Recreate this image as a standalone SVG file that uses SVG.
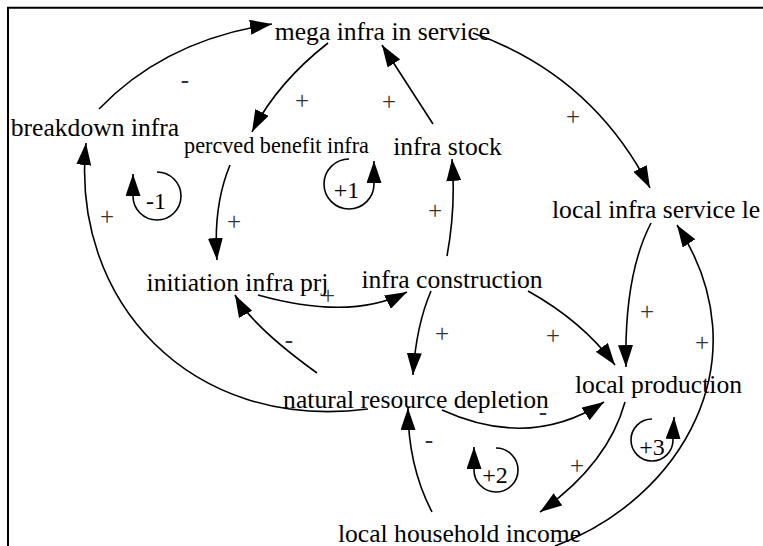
<svg xmlns="http://www.w3.org/2000/svg" width="763" height="546" viewBox="0 0 763 546">
<style>
.n{font-family:"Liberation Serif","Times New Roman",serif;font-size:25.6px;fill:#000;text-anchor:middle}
.s{font-family:"Liberation Serif","Times New Roman",serif;font-size:25px;fill:#333;text-anchor:middle}
.l{font-family:"Liberation Serif","Times New Roman",serif;font-size:24px;fill:#000;text-anchor:middle}
.c{fill:none;stroke:#000;stroke-width:1.6;marker-end:url(#ah)}
</style>
<defs>
<marker id="ah" viewBox="0 0 22 15" refX="22" refY="7.5" markerWidth="22" markerHeight="15" markerUnits="userSpaceOnUse" orient="auto">
<path d="M0,0 L22,7.5 L0,15 z" fill="#000"/>
</marker>
</defs>
<rect width="763" height="546" fill="#fff"/>
<path d="M8,546 V7.8 H763" fill="none" stroke="#000" stroke-width="2"/>

<g id="connectors">
<path class="c" d="M99,109 Q165,40 272,24"/>
<path class="c" d="M328,43 Q277,83 252,132"/>
<path class="c" d="M433,124 L382,45"/>
<path class="c" d="M473,33 Q592,75 650,188"/>
<path class="c" d="M230,165 Q213,206 217,260"/>
<path class="c" d="M258,295 Q351,321 407,292"/>
<path class="c" d="M447,256 Q456,207 452,159"/>
<path class="c" d="M431,291 Q416,326 413,375"/>
<path class="c" d="M528,291 Q582,321 615,365"/>
<path class="c" d="M651,223 Q624,275 626,367"/>
<path class="c" d="M555,546 C680,500 765,360 677,225"/>
<path class="c" d="M625,402 Q608,464 540,512"/>
<path class="c" d="M442,410 Q530,450 604,402"/>
<path class="c" d="M432,512 Q408,466 408,408"/>
<path class="c" d="M317,373 Q252,326 235,295"/>
<path class="c" d="M368,409 C190,432 70,300 86,143"/>
</g>

<g id="signs">
<text class="s" x="185" y="88">-</text>
<text class="s" x="302" y="108.5">+</text>
<text class="s" x="389" y="109.5">+</text>
<text class="s" x="573" y="124.5">+</text>
<text class="s" x="107" y="224.5">+</text>
<text class="s" x="234" y="229.5">+</text>
<text class="s" x="435" y="218.5">+</text>
<text class="s" x="328" y="303.5">+</text>
<text class="s" x="289" y="348">-</text>
<text class="s" x="442" y="341.5">+</text>
<text class="s" x="553" y="343.5">+</text>
<text class="s" x="647" y="319.5">+</text>
<text class="s" x="702" y="350.5">+</text>
<text class="s" x="543" y="420">-</text>
<text class="s" x="429" y="448">-</text>
<text class="s" x="577" y="473.5">+</text>
</g>

<g id="loop-minus1">
<path class="c" d="M157,172 A24,24 0 1 1 133,196 L133,174"/>
<text class="l" x="156" y="209">-1</text>
</g>
<g id="loop-plus1">
<path class="c" d="M349,159 A25,25 0 1 0 374,184 L374,161"/>
<text class="l" x="346.5" y="198">+1</text>
</g>
<g id="loop-plus2">
<path class="c" d="M496,448 A22,22 0 1 1 474,470 L474,447"/>
<text class="l" x="495" y="483">+2</text>
</g>
<g id="loop-plus3">
<path class="c" d="M652,419 A21,21 0 1 0 673,440 L674,417"/>
<text class="l" x="652" y="455">+3</text>
</g>

<g id="mega-infra-in-service"><text class="n" x="382.5" y="40">mega infra in service</text></g>
<g id="breakdown-infra"><text class="n" x="95" y="136">breakdown infra</text></g>
<g id="percved-benefit-infra"><text class="n" x="276.5" y="153" style="font-size:22.2px">percved benefit infra</text></g>
<g id="infra-stock"><text class="n" x="447.5" y="155">infra stock</text></g>
<g id="local-infra-service-level"><text class="n" x="552" y="218" style="text-anchor:start">local infra service le</text></g>
<g id="initiation-infra-prj"><text class="n" x="237.5" y="291">initiation infra prj</text></g>
<g id="infra-construction"><text class="n" x="452" y="288">infra construction</text></g>
<g id="local-production"><text class="n" x="658.5" y="393">local production</text></g>
<g id="natural-resource-depletion"><text class="n" x="416" y="408">natural resource depletion</text></g>
<g id="local-household-income"><text class="n" x="459.5" y="542">local household income</text></g>
</svg>
